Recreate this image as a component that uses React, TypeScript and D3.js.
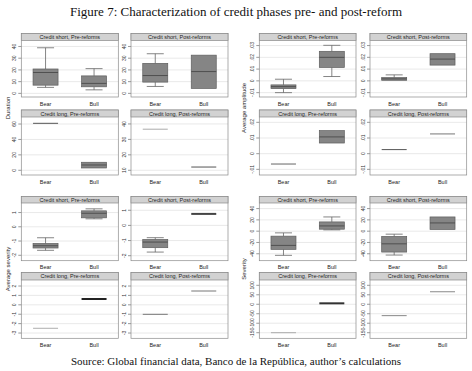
import React from "react";
import * as d3 from "d3";

const categories = ["Bear", "Bull"];
const panelTitles = [
  "Credit short, Pre-reforms",
  "Credit short, Post-reforms",
  "Credit long, Pre-reforms",
  "Credit long, Post-reforms",
];
const measureTitles = ["Duration", "Average amplitude", "Average severity", "Severity"];

// stats per panel: [Bear, Bull], each [lower whisker, q1, median, q3, upper whisker]
const durationStats = [
  [[5.1, 7.0, 17.8, 20.8, 38.9], [3.0, 5.6, 8.5, 14.9, 21.1]],
  [[5.9, 9.6, 15.2, 25.6, 33.8], [4.2, 4.2, 18.6, 32.6, 32.6]],
  [[60.9, 60.9, 60.9, 60.9, 60.9], [3.0, 3.0, 6.9, 10.4, 10.4]],
  [[36.6, 36.6, 36.6, 36.6, 36.6], [12.1, 12.1, 12.1, 12.1, 12.1]],
];
const amplitudeStats = [
  [[-0.01, -0.0066, -0.0049, -0.0034, 0.0014], [0.0037, 0.0114, 0.02, 0.0251, 0.0302]],
  [[0.0005, 0.0005, 0.0017, 0.0028, 0.0051], [0.0134, 0.0134, 0.0185, 0.0231, 0.0231]],
  [[-0.0066, -0.0066, -0.0066, -0.0066, -0.0066], [0.0068, 0.0068, 0.0107, 0.0147, 0.0147]],
  [[0.0026, 0.0026, 0.0026, 0.0026, 0.0026], [0.0126, 0.0126, 0.0126, 0.0126, 0.0126]],
];
const avgSeverityStats = [
  [[-1.65, -1.49, -1.33, -1.17, -0.77], [0.56, 0.63, 0.95, 1.12, 1.26]],
  [[-1.76, -1.47, -1.1, -0.93, -0.81], [0.76, 0.76, 0.76, 0.76, 0.76]],
  [[-2.5, -2.5, -2.5, -2.5, -2.5], [0.62, 0.62, 0.62, 0.62, 0.62]],
  [[-1.01, -1.01, -1.01, -1.01, -1.01], [1.47, 1.47, 1.47, 1.47, 1.47]],
];
const severityStats = [
  [[-42.8, -32.2, -25.2, -8.8, -3.0], [2.3, 3.5, 9.3, 16.4, 25.2]],
  [[-42.3, -37, -22.4, -9.3, -5.3], [3, 3, 14.6, 25.2, 25.2]],
  [[-150, -150, -150, -150, -150], [5, 5, 5, 5, 5]],
  [[-60, -60, -60, -60, -60], [66, 66, 66, 66, 66]],
];

// y-axis ranges per panel
const durationDomains = [[-3.1, 45.1], [-3.1, 45.1], [-6.1, 69.1], [6.95, 44.5]];
const amplitudeDomains = [[-0.0137, 0.0343], [-0.0137, 0.0343], [-0.0136, 0.0234], [-0.0136, 0.0234]];
const avgSeverityDomains = [[-2.38, 1.67], [-2.33, 1.48], [-3.56, 2.64], [-3.56, 2.64]];
const severityDomains = [[-52.3, 49.9], [-52.3, 49.9], [-179.5, 128], [-179.5, 128]];

// tick values per panel
const durationTicks = [[0, 10, 20, 30, 40], [0, 10, 20, 30, 40], [0, 20, 40, 60], [10, 20, 30, 40]];
const amplitudeTicks = [
  [-0.01, 0, 0.01, 0.02, 0.03],
  [-0.01, 0, 0.01, 0.02, 0.03],
  [-0.01, 0, 0.01, 0.02],
  [-0.01, 0, 0.01, 0.02],
];
const avgSeverityTicks = [[-2, -1, 0, 1], [-2, -1, 0, 1], [-3, -2, -1, 0, 1, 2], [-3, -2, -1, 0, 1, 2]];
const severityTicks = [
  [-40, -20, 0, 20, 40],
  [-40, -20, 0, 20, 40],
  [-150, -100, -50, 0, 50, 100],
  [-150, -100, -50, 0, 50, 100],
];

const allStats = [durationStats, amplitudeStats, avgSeverityStats, severityStats];
const allDomains = [durationDomains, amplitudeDomains, avgSeverityDomains, severityDomains];
const allTicks = [durationTicks, amplitudeTicks, avgSeverityTicks, severityTicks];

// styling for single-value lines: key "measure-panel-category"
const lineStyles: Record<string, { c: string; w: number }> = {
  "0-2-0": { c: "#555", w: 1 },
  "0-3-0": { c: "#aaa", w: 1 },
  "0-3-1": { c: "#555", w: 1 },
  "1-2-0": { c: "#666", w: 1 },
  "1-3-0": { c: "#555", w: 1 },
  "1-3-1": { c: "#777", w: 1 },
  "2-1-1": { c: "#444", w: 2 },
  "2-2-0": { c: "#bbb", w: 1.2 },
  "2-2-1": { c: "#222", w: 2 },
  "2-3-0": { c: "#777", w: 1 },
  "2-3-1": { c: "#777", w: 1 },
  "3-2-0": { c: "#aaa", w: 1 },
  "3-2-1": { c: "#333", w: 2 },
  "3-3-0": { c: "#888", w: 1 },
  "3-3-1": { c: "#888", w: 1 },
};

// layout
const colX = [[21.3, 118.3], [131, 228], [259.3, 356], [370, 466.7]];
const rowY = [
  [{ h: 33.5, t: 40.5, b: 97 }, { h: 110, t: 117, b: 175 }],
  [{ h: 196.5, t: 203, b: 260.7 }, { h: 272.5, t: 280, b: 338.3 }],
];
const titleX = [8, 244];
const titleY = [108, 269];

const fmt = (v: number) => {
  if (v === 0) return "0";
  return String(+v.toFixed(4)).replace(/^(-?)0\./, "$1.");
};

const SANS = "Liberation Sans, Arial, sans-serif";
const SERIF = "Liberation Serif, Times New Roman, serif";

function Panel({ m, p }: { m: number; p: number }) {
  const gc = m % 2;
  const gr = Math.floor(m / 2);
  const [x0, x1] = colX[gc * 2 + (p % 2)];
  const r = rowY[gr][Math.floor(p / 2)];
  const y = d3.scaleLinear().domain(allDomains[m][p]).range([r.b, r.t]);
  const x = d3.scalePoint<string>().domain(categories).range([x0, x1]).padding(0.5);
  const bw = 25;
  const cw = 17;
  const stats = allStats[m][p];
  return (
    <g>
      <rect x={x0} y={r.t} width={x1 - x0} height={r.b - r.t} fill="#fff" />
      {allTicks[m][p].map((t) => (
        <g key={t}>
          <line x1={x0} x2={x1} y1={y(t)} y2={y(t)} stroke="#e3e3e3" strokeWidth={0.8} />
          <line x1={x0 - 3} x2={x0} y1={y(t)} y2={y(t)} stroke="#555" strokeWidth={0.6} />
          <text
            transform={`translate(${x0 - 5.2},${y(t)}) rotate(-90)`}
            textAnchor="middle"
            fontSize={5}
            fontFamily={SANS}
            fill="#333"
          >
            {fmt(t)}
          </text>
        </g>
      ))}
      {stats.map((s, ci) => {
        const cx = x(categories[ci])!;
        const [lo, q1, med, q3, hi] = s;
        if (lo === hi) {
          const st = lineStyles[`${m}-${p}-${ci}`] || { c: "#666", w: 1 };
          return (
            <line key={ci} x1={cx - bw / 2} x2={cx + bw / 2} y1={y(med)} y2={y(med)} stroke={st.c} strokeWidth={st.w} />
          );
        }
        return (
          <g key={ci}>
            {hi > q3 && (
              <g stroke="#666" strokeWidth={0.8}>
                <line x1={cx} x2={cx} y1={y(q3)} y2={y(hi)} />
                <line x1={cx - cw / 2} x2={cx + cw / 2} y1={y(hi)} y2={y(hi)} />
              </g>
            )}
            {lo < q1 && (
              <g stroke="#666" strokeWidth={0.8}>
                <line x1={cx} x2={cx} y1={y(q1)} y2={y(lo)} />
                <line x1={cx - cw / 2} x2={cx + cw / 2} y1={y(lo)} y2={y(lo)} />
              </g>
            )}
            <rect
              x={cx - bw / 2}
              y={y(q3)}
              width={bw}
              height={Math.max(0.5, y(q1) - y(q3))}
              fill="#858585"
              stroke="#5e5e5e"
              strokeWidth={0.7}
            />
            <line x1={cx - bw / 2} x2={cx + bw / 2} y1={y(med)} y2={y(med)} stroke="#4a4a4a" strokeWidth={0.9} />
          </g>
        );
      })}
      <rect x={x0} y={r.h} width={x1 - x0} height={r.b - r.h} fill="none" stroke="#8a8a8a" strokeWidth={0.7} />
      <rect x={x0} y={r.h} width={x1 - x0} height={r.t - r.h} fill="#d2d2d2" stroke="#8a8a8a" strokeWidth={0.7} />
      <text
        x={(x0 + x1) / 2}
        y={(r.h + r.t) / 2 + 2}
        textAnchor="middle"
        fontSize={5.5}
        fontFamily={SANS}
        fill="#222"
      >
        {panelTitles[p]}
      </text>
      {categories.map((c) => (
        <text key={c} x={x(c)} y={r.b + 8.5} textAnchor="middle" fontSize={5.5} fontFamily={SANS} fill="#222">
          {c}
        </text>
      ))}
    </g>
  );
}

export default function App() {
  return (
    <svg width={472} height={371} style={{ position: "absolute", left: 0, top: 0, background: "#fff" }}>
      <rect width={472} height={371} fill="#fff" />
      <text x={236} y={15.5} textAnchor="middle" fontSize={13} fontFamily={SERIF} fill="#111">
        Figure 7: Characterization of credit phases pre- and post-reform
      </text>
      {measureTitles.map((t, m) => (
        <g key={t}>
          <text
            transform={`translate(${titleX[m % 2] + 2},${titleY[Math.floor(m / 2)]}) rotate(-90)`}
            textAnchor="middle"
            fontSize={6}
            fontFamily={SANS}
            fill="#222"
          >
            {t}
          </text>
          {[0, 1, 2, 3].map((p) => (
            <Panel key={p} m={m} p={p} />
          ))}
        </g>
      ))}
      <text x={236} y={365} textAnchor="middle" fontSize={11} fontFamily={SERIF} fill="#111">
        Source: Global financial data, Banco de la República, author’s calculations
      </text>
    </svg>
  );
}
